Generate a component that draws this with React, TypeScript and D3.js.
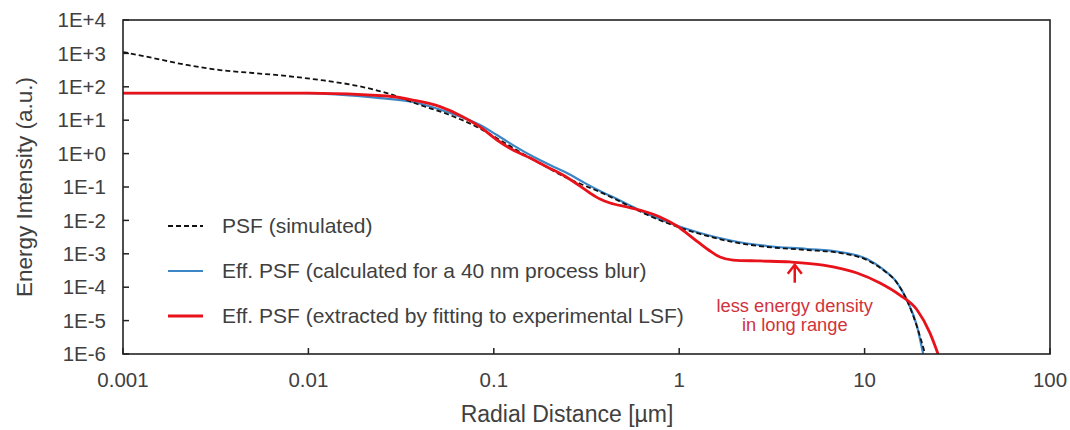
import React from "react";
import * as d3 from "d3";

const xTickValues = [0.001, 0.01, 0.1, 1, 10, 100];
const xTickLabels = ["0.001", "0.01", "0.1", "1", "10", "100"];
const yTickValues = [1e4, 1e3, 1e2, 1e1, 1e0, 1e-1, 1e-2, 1e-3, 1e-4, 1e-5, 1e-6];
const yTickLabels = ["1E+4", "1E+3", "1E+2", "1E+1", "1E+0", "1E-1", "1E-2", "1E-3", "1E-4", "1E-5", "1E-6"];

// PSF (simulated)
const psfX = [0.001, 0.00145, 0.00221, 0.00333, 0.00502, 0.00767, 0.01156, 0.0174, 0.0265, 0.04, 0.056, 0.081, 0.108, 0.144, 0.184, 0.236, 0.303, 0.374, 0.462, 0.564, 0.695, 0.859, 1.294, 1.95, 2.98, 4.89, 7.36, 10.3, 12.6, 14.96, 16.9, 19.2, 21.2];
const psfY = [1100, 728, 450, 318, 259, 210, 160, 113, 65, 28.5, 15.3, 6.3, 2.55, 0.97, 0.456, 0.213, 0.115, 0.0708, 0.0408, 0.0235, 0.01355, 0.00836, 0.00392, 0.00225, 0.0016, 0.0013, 0.00106, 0.00065, 0.000327, 0.000134, 4.1e-5, 6.4e-6, 1e-6];

// Eff. PSF (calculated for a 40 nm process blur)
const calcX = [0.001, 0.009, 0.0243, 0.0366, 0.056, 0.0843, 0.104, 0.127, 0.157, 0.201, 0.248, 0.303, 0.374, 0.462, 0.564, 0.695, 0.859, 1.294, 1.95, 2.98, 4.89, 7.36, 10.3, 12.6, 14.96, 16.9, 19.2, 20.7];
const calcY = [65, 65, 46, 35, 17.6, 7.2, 3.6, 1.8, 0.91, 0.456, 0.262, 0.141, 0.0759, 0.0437, 0.0252, 0.0145, 0.00895, 0.0042, 0.00242, 0.00171, 0.00139, 0.00113, 0.0007, 0.00034, 0.000138, 4.2e-5, 6.6e-6, 1e-6];

// Eff. PSF (extracted by fitting to experimental LSF)
const fitX = [0.001, 0.01, 0.0265, 0.0366, 0.0513, 0.0683, 0.0843, 0.104, 0.127, 0.157, 0.194, 0.236, 0.281, 0.33, 0.374, 0.424, 0.523, 0.638, 0.787, 0.973, 1.186, 1.466, 1.66, 1.95, 2.73, 3.96, 5.97, 9.1, 12.1, 15.5, 19.2, 22.5, 24.9];
const fitY = [65, 65, 53, 40, 25.4, 12.5, 6.3, 2.55, 1.28, 0.74, 0.4, 0.229, 0.123, 0.066, 0.0437, 0.0332, 0.0252, 0.0191, 0.01265, 0.0068, 0.00297, 0.00121, 0.0008, 0.00065, 0.00061, 0.00057, 0.00046, 0.000266, 0.000134, 5.8e-5, 2.07e-5, 4.3e-6, 1e-6];

const legendLabels = [
  "PSF (simulated)",
  "Eff. PSF (calculated for a 40 nm process blur)",
  "Eff. PSF (extracted by fitting to experimental LSF)",
];
const annotationLines = ["less energy density", "in long range"];
const annotationX = 4.2;
const annotationY = 5.8e-4;

const W = 1070;
const H = 430;
const left = 123;
const right = 1050;
const top = 20;
const bottom = 354;

const FONT = "'Liberation Sans', Arial, sans-serif";
const TEXT = "#404040";
const BLUE = "#3d86c6";
const RED = "#e8121b";
const ANNOT = "#d0333c";

export default function App() {
  const x = d3.scaleLog().domain([0.001, 100]).range([left, right]);
  const y = d3.scaleLog().domain([1e-6, 1e4]).range([bottom, top]);

  const line = d3
    .line<[number, number]>()
    .x((d) => x(d[0]))
    .y((d) => y(d[1]))
    .curve(d3.curveMonotoneX);

  const psf = line(psfX.map((v, i) => [v, psfY[i]]) as [number, number][]) || "";
  const calc = line(calcX.map((v, i) => [v, calcY[i]]) as [number, number][]) || "";
  const fit = line(fitX.map((v, i) => [v, fitY[i]]) as [number, number][]) || "";

  const legendY = [226, 271, 316];
  const ax = x(annotationX);
  const ay = y(annotationY);

  return (
    <svg
      width={W}
      height={H}
      style={{ position: "absolute", left: 0, top: 0, background: "#fff" }}
      fontFamily={FONT}
    >
      <defs>
        <clipPath id="plotClip">
          <rect x={left} y={top} width={right - left} height={bottom - top} />
        </clipPath>
      </defs>
      <rect x={0} y={0} width={W} height={H} fill="#fff" />

      {/* y ticks */}
      {yTickValues.map((v, i) => (
        <g key={"y" + i}>
          <line x1={left} x2={left + 6} y1={y(v)} y2={y(v)} stroke="#222" strokeWidth={1.5} />
          <text x={106} y={y(v)} dy="0.35em" textAnchor="end" fontSize={20.5} fill={TEXT}>
            {yTickLabels[i]}
          </text>
        </g>
      ))}
      {/* x ticks */}
      {xTickValues.map((v, i) => (
        <g key={"x" + i}>
          <line x1={x(v)} x2={x(v)} y1={bottom} y2={bottom - 6} stroke="#222" strokeWidth={1.5} />
          <text x={x(v)} y={380} dy="0.35em" textAnchor="middle" fontSize={20.5} fill={TEXT}>
            {xTickLabels[i]}
          </text>
        </g>
      ))}

      <g clipPath="url(#plotClip)">
        <path d={calc} fill="none" stroke={BLUE} strokeWidth={2.2} />
        <path d={psf} fill="none" stroke="#111" strokeWidth={1.8} strokeDasharray="5,3" />
        <path d={fit} fill="none" stroke={RED} strokeWidth={2.8} />
      </g>

      <rect x={left} y={top} width={right - left} height={bottom - top} fill="none" stroke="#222" strokeWidth={1.6} />

      {/* legend */}
      <line x1={168} x2={203} y1={legendY[0]} y2={legendY[0]} stroke="#111" strokeWidth={1.8} strokeDasharray="5,3" />
      <line x1={168} x2={203} y1={legendY[1]} y2={legendY[1]} stroke={BLUE} strokeWidth={2.2} />
      <line x1={168} x2={203} y1={legendY[2]} y2={legendY[2]} stroke={RED} strokeWidth={2.8} />
      {legendLabels.map((t, i) => (
        <text key={"l" + i} x={222} y={legendY[i]} dy="0.35em" fontSize={21} fill={TEXT}>
          {t}
        </text>
      ))}

      {/* annotation arrow */}
      <line x1={ax} x2={ax} y1={ay + 3} y2={ay + 21} stroke={RED} strokeWidth={2.5} />
      <polyline
        points={`${ax - 7},${ay + 12} ${ax},${ay + 3} ${ax + 7},${ay + 12}`}
        fill="none"
        stroke={RED}
        strokeWidth={2.5}
      />
      {annotationLines.map((t, i) => (
        <text key={"a" + i} x={ax} y={ay + 44 + i * 19} dy="0.35em" textAnchor="middle" fontSize={18.3} fill={ANNOT}>
          {t}
        </text>
      ))}

      {/* axis titles */}
      <text x={567} y={414} dy="0.35em" textAnchor="middle" fontSize={23} fill={TEXT}>
        Radial Distance [µm]
      </text>
      <text
        transform={`translate(24,187) rotate(-90)`}
        dy="0.35em"
        textAnchor="middle"
        fontSize={22.5}
        fill={TEXT}
      >
        Energy Intensity (a.u.)
      </text>
    </svg>
  );
}
